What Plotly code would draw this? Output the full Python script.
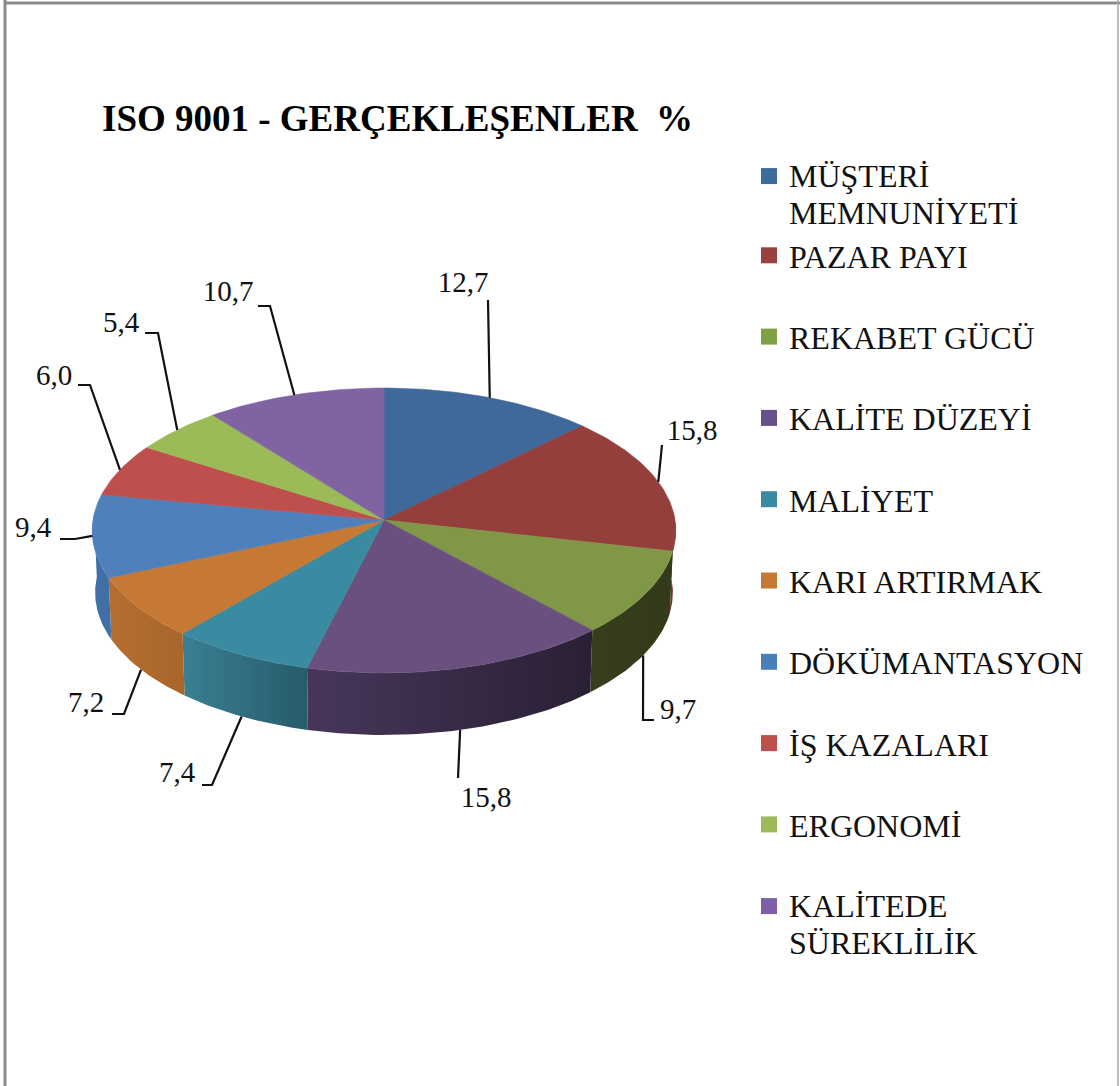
import math
import plotly.graph_objects as go

# ---------- data ----------
categories = ["MÜŞTERİ MEMNUNİYETİ", "PAZAR PAYI", "REKABET GÜCÜ", "KALİTE DÜZEYİ", "MALİYET",
              "KARI ARTIRMAK", "DÖKÜMANTASYON", "İŞ KAZALARI", "ERGONOMİ", "KALİTEDE SÜREKLİLİK"]
values = [12.7, 15.8, 9.7, 15.8, 7.4, 7.2, 9.4, 6.0, 5.4, 10.7]
title_text = "ISO 9001 - GERÇEKLEŞENLER\u00a0\u00a0%"

# ---------- styles ----------
top_colors = ["#3f689b", "#953f3d", "#7f9746", "#69507f", "#3a8aa1",
              "#c67835", "#4f80bb", "#bf4f4c", "#9bbb59", "#8064a2"]
swatch_colors = ["#3f6a9c", "#9a403e", "#80a046", "#69508a", "#3a8aa1",
                 "#c67835", "#4a7ebb", "#bf4f4c", "#9bbb59", "#7f5fa5"]
wall_colors = {1: ("#6e2e2c", "#7a3432"), 2: ("#363e1c", "#323a1a"), 3: ("#47365a", "#2a2034"),
               4: ("#3a7f93", "#265b6a"), 5: ("#b56e2f", "#a9662b"), 6: ("#3d6fa8", "#4270a5")}
# layout of the drawing, in page pixels
CX, CY, RX, RY, PERSP, DEPTH = 384.0, 520.0, 291.0, 141.7, -0.0737, 62.0
label_pos = [(463, 285), (692, 433), (678, 712), (486, 800), (177, 775),
             (86, 705), (33, 530), (54, 378), (121, 325), (228, 294)]
leader_elbows = [[(488, 300)], [(662, 445)], [(643, 720), (654, 720)], [(458, 778)],
                 [(212, 785), (202, 785)], [(124, 714), (112, 714)], [(75, 539), (60, 539)],
                 [(90, 385), (78, 385)], [(158, 333), (145, 333)], [(270, 306), (258, 306)]]
LABEL_FONT = dict(family="Liberation Serif", size=29, color="#111111")
LEGEND_SIZE = 32
LINE = 28.5  # legend font giving the reference's 37 px line spacing for two-line items


def project(theta, depth=0.0, scale=1.0):
    u, v = math.sin(theta), -math.cos(theta)
    d = 1 + PERSP * v
    return CX + scale * RX * u / d, CY + depth + RY * v / d


def arc(a, b, n=None, **kw):
    n = n or max(int(abs(b - a) * 60), 6)
    return [project(a + (b - a) * i / n, **kw) for i in range(n + 1)]


total = sum(values)
edges = [0.0]
for val in values:
    edges.append(edges[-1] + val / total * 2 * math.pi)

fig = go.Figure()
WALL_LO, WALL_HI = math.radians(87), math.radians(272)

# side walls (angles run right to left along the front of the pie)
for i in wall_colors:
    a, b = max(edges[i], WALL_LO), min(edges[i + 1], WALL_HI)
    pts = arc(a, b) + arc(b, a, depth=DEPTH, scale=0.99)
    c_left, c_right = wall_colors[i]
    fig.add_trace(go.Scatter(
        x=[p[0] for p in pts], y=[p[1] for p in pts], mode="lines", fill="toself",
        line=dict(width=0, color=c_left), showlegend=False, hoverinfo="skip",
        fillgradient=dict(type="horizontal", colorscale=[[0, c_left], [1, c_right]])))

# top faces
for i, name in enumerate(categories):
    pts = [(CX, CY)] + arc(edges[i], edges[i + 1]) + [(CX, CY)]
    fig.add_trace(go.Scatter(
        x=[p[0] for p in pts], y=[p[1] for p in pts], mode="lines", fill="toself",
        fillcolor=top_colors[i], line=dict(width=0.6, color=top_colors[i]),
        showlegend=False, name=name, hovertemplate="%{text}<extra></extra>",
        text=[f"{name}: {values[i]}"] * len(pts)))

# leader lines
for i in range(len(values)):
    mid = (edges[i] + edges[i + 1]) / 2
    on_wall = math.radians(100) < mid < math.radians(260)
    start = project(mid, depth=DEPTH if on_wall else 0.0, scale=0.99 if on_wall else 1.0)
    pts = [start] + leader_elbows[i]
    fig.add_trace(go.Scatter(x=[p[0] for p in pts], y=[p[1] for p in pts], mode="lines",
                             line=dict(color="#111111", width=2.2), showlegend=False, hoverinfo="skip"))

# value labels
fig.add_trace(go.Scatter(x=[p[0] for p in label_pos], y=[p[1] for p in label_pos], mode="text",
                         text=[f"{val:.1f}".replace(".", ",") for val in values],
                         textposition="middle center", textfont=LABEL_FONT,
                         showlegend=False, hoverinfo="skip"))

# legend entries; the blank first line keeps the swatch level with the first text line
for i, name in enumerate(categories):
    if i == 0 or i == len(categories) - 1:
        first, second = name.rsplit(" ", 1)
        label = f'<span style="font-size:{LEGEND_SIZE}px">\u00a0<br>{first}<br>{second}</span>'
        legend = "legend" if i == 0 else "legend3"
    else:
        label, legend = name, "legend2"
    fig.add_trace(go.Scatter(x=[None], y=[None], mode="markers", name=label, legend=legend,
                             legendgroup=name,
                             marker=dict(symbol="square", size=16, color=swatch_colors[i],
                                         line=dict(width=0)), hoverinfo="skip"))

W, H = 1120, 1086
LEG_X = 749 / W
base_leg = dict(xanchor="left", yanchor="top", bgcolor="rgba(0,0,0,0)", borderwidth=0,
                itemclick=False, itemdoubleclick=False, traceorder="grouped")
frame = dict(type="line", xref="paper", yref="paper", layer="above")
fig.update_layout(
    width=W, height=H, autosize=False,
    margin=dict(l=0, r=0, t=0, b=0), paper_bgcolor="white", plot_bgcolor="white",
    font=dict(family="Liberation Serif", color="#111111"),
    title=dict(text=f"<b>{title_text}</b>", x=102 / W, xanchor="left", y=1 - 118 / H, yanchor="middle",
               font=dict(family="Liberation Serif", size=37, color="#000000")),
    xaxis=dict(range=[0, W], visible=False, fixedrange=True),
    yaxis=dict(range=[H, 0], visible=False, fixedrange=True),
    legend=dict(x=LEG_X, y=1 - 114 / H, font=dict(family="Liberation Serif", size=LINE, color="#111111"), **base_leg),
    legend2=dict(x=LEG_X, y=1 - 228 / H, font=dict(family="Liberation Serif", size=LEGEND_SIZE, color="#111111"),
                 tracegroupgap=36.7, **base_leg),
    legend3=dict(x=LEG_X, y=1 - 844 / H, font=dict(family="Liberation Serif", size=LINE, color="#111111"), **base_leg),
    shapes=[
        dict(frame, x0=5 / W, x1=5 / W, y0=0, y1=1, line=dict(color="#8a8a8a", width=3)),
        dict(frame, x0=5 / W, x1=1, y0=1 - 3 / H, y1=1 - 3 / H, line=dict(color="#8a8a8a", width=3)),
        dict(frame, x0=1118 / W, x1=1118 / W, y0=0, y1=1, line=dict(color="#a8a8a8", width=1.5)),
    ],
)
fig.write_html("out.html", config={"displayModeBar": False},
               post_script="document.body.style.margin='0';")
